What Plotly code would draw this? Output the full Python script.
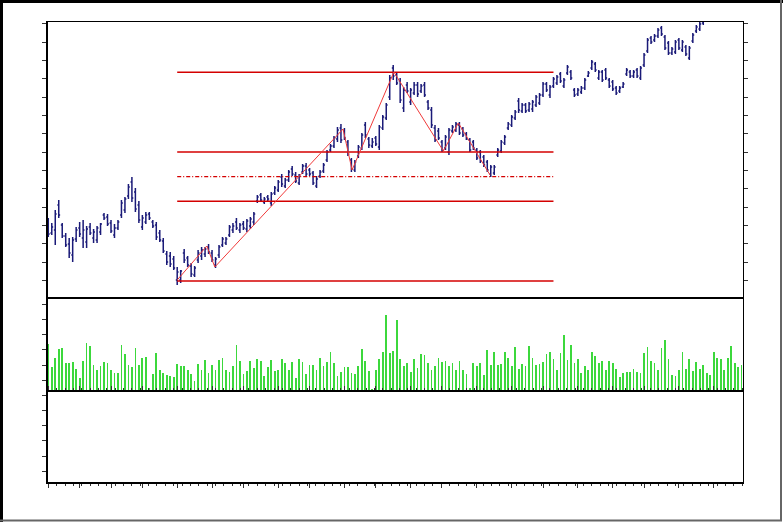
import plotly.graph_objects as go

# ---------------- data ----------------
bar_index = list(range(200))

high = [82, 77, 90, 100, 77, 67, 62, 63, 73, 78,
        80, 74, 77, 71, 74, 77, 87, 86, 80, 76,
        80, 100, 103, 116, 123, 112, 99, 85, 88, 88,
        80, 78, 70, 62, 49, 48, 44, 33, 30, 51,
        44, 37, 34, 50, 53, 53, 56, 50, 43, 55,
        63, 63, 75, 77, 82, 77, 79, 81, 83, 88,
        105, 107, 103, 105, 108, 114, 120, 126, 122, 130,
        134, 128, 126, 136, 137, 132, 129, 124, 130, 137,
        150, 156, 164, 173, 176, 172, 160, 142, 140, 155,
        167, 178, 163, 162, 164, 175, 185, 197, 225, 235,
        227, 222, 213, 218, 212, 218, 218, 216, 218, 200,
        193, 175, 172, 160, 165, 172, 175, 178, 178, 173,
        168, 162, 160, 152, 150, 145, 140, 135, 135, 152,
        160, 165, 178, 185, 190, 202, 197, 197, 198, 200,
        205, 207, 218, 218, 215, 223, 225, 228, 222, 235,
        230, 212, 212, 214, 222, 229, 240, 238, 230, 230,
        232, 222, 220, 214, 214, 218, 232, 230, 230, 232,
        234, 247, 262, 264, 266, 272, 274, 265, 259, 253,
        260, 262, 260, 255, 254, 267, 275, 278, 284, 290,
        292, 295, 298, 296, 300, 303, 301, 305, 308, 306]

low = [63, 65, 55, 82, 62, 53, 42, 38, 58, 63,
       52, 52, 65, 57, 57, 65, 80, 74, 67, 62,
       70, 82, 87, 101, 98, 88, 77, 70, 76, 80,
       72, 60, 58, 47, 35, 33, 30, 15, 17, 37,
       33, 23, 23, 37, 40, 43, 46, 38, 32, 42,
       53, 55, 63, 67, 70, 67, 70, 68, 71, 75,
       97, 98, 96, 99, 94, 105, 108, 113, 112, 118,
       124, 117, 115, 126, 123, 124, 115, 112, 122, 127,
       138, 148, 152, 158, 157, 160, 144, 128, 128, 142,
       150, 162, 152, 152, 154, 150, 170, 180, 200, 220,
       215, 197, 188, 207, 195, 205, 203, 207, 203, 190,
       172, 158, 160, 148, 150, 145, 167, 168, 165, 163,
       160, 148, 150, 140, 137, 133, 128, 123, 125, 143,
       147, 155, 170, 173, 180, 187, 187, 187, 188, 188,
       193, 195, 203, 208, 202, 212, 215, 217, 212, 225,
       220, 203, 204, 206, 210, 223, 230, 228, 220, 218,
       220, 212, 209, 205, 207, 212, 224, 222, 222, 222,
       220, 233, 247, 256, 258, 262, 264, 250, 245, 245,
       246, 250, 248, 244, 240, 257, 267, 269, 275, 280,
       282, 285, 287, 286, 289, 292, 290, 294, 297, 296]

open_ = [78, 67, 70, 95, 75, 64, 56, 45, 61, 72,
         62, 58, 73, 62, 60, 68, 85, 83, 77, 65,
         72, 85, 90, 104, 118, 108, 95, 73, 78, 86,
         78, 75, 67, 59, 46, 44, 41, 20, 20, 47,
         42, 34, 25, 40, 44, 46, 53, 47, 35, 45,
         55, 57, 65, 70, 78, 70, 76, 71, 74, 78,
         99, 105, 98, 103, 97, 107, 110, 123, 114, 120,
         131, 125, 117, 128, 134, 130, 127, 114, 124, 129,
         140, 150, 154, 161, 172, 169, 158, 140, 130, 144,
         152, 175, 161, 154, 162, 153, 172, 182, 203, 232,
         225, 219, 192, 215, 198, 207, 215, 209, 215, 198,
         190, 172, 169, 158, 152, 148, 169, 170, 175, 171,
         166, 160, 158, 150, 148, 143, 138, 126, 127, 145,
         149, 157, 172, 175, 182, 199, 189, 195, 190, 191,
         195, 197, 205, 216, 205, 214, 217, 226, 214, 227,
         228, 210, 206, 208, 212, 224, 232, 236, 222, 228,
         230, 220, 218, 212, 209, 213, 226, 228, 224, 230,
         222, 235, 249, 262, 260, 264, 272, 263, 257, 247,
         248, 260, 250, 253, 242, 259, 269, 271, 277, 282,
         284, 287, 289, 294, 290, 294, 299, 295, 299, 304]

close = [66, 73, 86, 85, 64, 55, 47, 60, 70, 66,
         70, 71, 67, 68, 72, 76, 82, 76, 69, 72,
         78, 97, 101, 113, 102, 91, 80, 82, 85, 82,
         74, 63, 60, 49, 38, 36, 32, 28, 29, 40,
         35, 26, 32, 47, 50, 51, 48, 40, 41, 53,
         61, 61, 73, 74, 72, 75, 72, 79, 81, 86,
         103, 100, 101, 101, 106, 112, 118, 116, 120, 128,
         126, 119, 124, 134, 126, 126, 117, 121, 128, 135,
         148, 154, 162, 170, 160, 162, 146, 131, 138, 153,
         165, 165, 155, 158, 156, 173, 183, 195, 222, 224,
         217, 200, 210, 209, 210, 215, 206, 214, 205, 192,
         175, 160, 162, 150, 163, 170, 173, 176, 167, 165,
         161, 150, 152, 142, 139, 135, 130, 133, 133, 150,
         158, 163, 176, 183, 188, 190, 195, 189, 196, 198,
         203, 205, 216, 210, 213, 221, 223, 219, 220, 233,
         222, 205, 210, 212, 220, 227, 238, 230, 228, 220,
         222, 214, 211, 207, 212, 216, 230, 224, 228, 224,
         232, 245, 260, 258, 264, 270, 266, 252, 247, 251,
         258, 252, 258, 246, 252, 265, 273, 276, 282, 288,
         290, 293, 296, 288, 298, 301, 292, 303, 306, 298]

volume = [47, 24, 33, 42, 43, 28, 28, 29, 22, 13,
          30, 48, 45, 26, 21, 25, 29, 28, 21, 18,
          18, 46, 37, 26, 24, 43, 26, 33, 34, 3,
          17, 38, 21, 18, 16, 15, 14, 27, 25, 25,
          21, 17, 10, 27, 21, 31, 18, 26, 21, 31,
          33, 21, 19, 25, 46, 30, 17, 20, 30, 23,
          32, 30, 15, 24, 31, 20, 21, 32, 28, 21,
          29, 13, 32, 29, 17, 26, 26, 21, 33, 25,
          29, 39, 28, 15, 19, 24, 24, 18, 17, 25,
          42, 30, 20, 2, 21, 32, 39, 76, 38, 40,
          71, 32, 25, 28, 19, 32, 23, 37, 36, 28,
          21, 25, 33, 29, 30, 25, 28, 21, 30, 21,
          17, 3, 28, 25, 28, 16, 41, 26, 39, 26,
          27, 39, 33, 25, 44, 22, 27, 25, 45, 33,
          26, 27, 29, 37, 39, 32, 21, 38, 56, 31,
          46, 28, 32, 18, 25, 21, 39, 35, 28, 30,
          21, 30, 28, 22, 14, 18, 19, 19, 22, 19,
          18, 38, 44, 30, 28, 21, 43, 51, 32, 16,
          15, 21, 39, 22, 32, 20, 29, 22, 26, 18,
          16, 39, 33, 32, 21, 33, 45, 28, 24, 26]

# Fibonacci retracement drawn from the swing low to the swing high
fib_start = 37
fib_end = 145
fib_low = 19
fib_high = 227.7
fib_ratios = [0.0, 0.382, 0.5, 0.618, 1.0]

# zig-zag swing line
zig_x = [37, 45.5, 47.8, 84.6, 87.2, 99.2, 113.4, 117.7, 126.8]
zig_y = [20, 54, 33, 171, 130, 228, 149, 177, 125]

x_major_ticks = [0, 9, 18, 27, 37, 47, 56, 66, 75, 85, 94, 104, 113,
                 123, 133, 142, 152, 162, 171, 181, 191]

# ---------------- styles ----------------
NAVY = "#1a1a78"
GREEN = "#3cd83c"
FIB_RED = "#d40000"
ZIG_RED = "#f03a3a"

fig = go.Figure()

fig.add_trace(go.Ohlc(
    x=bar_index, open=open_, high=high, low=low, close=close,
    increasing=dict(line=dict(color=NAVY, width=1.5)),
    decreasing=dict(line=dict(color=NAVY, width=1.5)),
    tickwidth=0.4, xaxis="x", yaxis="y", hoverinfo="skip", showlegend=False))

for r in fib_ratios:
    level = fib_low + r * (fib_high - fib_low)
    fig.add_trace(go.Scatter(
        x=[fib_start, fib_end], y=[level, level], mode="lines",
        line=dict(color=FIB_RED, width=1.5 if r != 0.5 else 1.2,
                  dash="4px,2px,1px,2px" if r == 0.5 else "solid"),
        xaxis="x", yaxis="y", hoverinfo="skip", showlegend=False))

fig.add_trace(go.Scatter(
    x=zig_x, y=zig_y, mode="lines", line=dict(color=ZIG_RED, width=1),
    xaxis="x", yaxis="y", hoverinfo="skip", showlegend=False))

fig.add_trace(go.Bar(
    x=bar_index, y=volume, width=0.5,
    marker=dict(color=GREEN, line=dict(width=0)),
    xaxis="x", yaxis="y2", hoverinfo="skip", showlegend=False))

fig.add_trace(go.Scatter(x=[], y=[], xaxis="x", yaxis="y3",
                         hoverinfo="skip", showlegend=False))

W, H = 783, 522
L, R, T, B = 47, 40, 22, 39
pw, ph = W - L - R, H - T - B


def px(xp):
    return (xp - L) / pw


def py(yp):
    return (H - B - yp) / ph


axis_common = dict(showgrid=False, zeroline=False, showline=True,
                   linecolor="black", linewidth=1, ticks="outside",
                   tickcolor="#333333", ticklen=4, tickwidth=1,
                   showticklabels=False)

fig.update_layout(
    width=W, height=H,
    margin=dict(l=L, r=R, t=T, b=B, pad=0),
    paper_bgcolor="white", plot_bgcolor="white",
    showlegend=False, bargap=0,
    xaxis=dict(domain=[0, 1], anchor="y3", range=[-0.37, 199.4],
               mirror="all", tickmode="array", tickvals=x_major_ticks,
               minor=dict(ticks="outside", dtick=2.4, tick0=0, ticklen=2,
                          tickcolor="#333333"),
               rangeslider=dict(visible=False), **axis_common),
    yaxis=dict(domain=[185 / 461, 1], anchor="x", range=[2, 278],
               mirror="ticks", tick0=1, dtick=18.35, **axis_common),
    yaxis2=dict(domain=[92 / 461, 185 / 461], anchor="x", range=[0, 93],
                mirror=True, tick0=10.7, dtick=15.2, **axis_common),
    yaxis3=dict(domain=[0, 92 / 461], anchor="x", range=[0, 92],
                mirror=True, tick0=11.5, dtick=15.3, **axis_common),
    shapes=[
        # heavier left and bottom frame edges
        dict(type="line", xref="paper", yref="paper", x0=0, x1=0, y0=0, y1=1,
             line=dict(color="black", width=2)),
        dict(type="line", xref="paper", yref="paper", x0=0, x1=1, y0=0, y1=0,
             line=dict(color="black", width=2)),
        # window border
        dict(type="line", xref="paper", yref="paper", x0=px(0), x1=px(783),
             y0=py(1.5), y1=py(1.5), line=dict(color="black", width=3)),
        dict(type="line", xref="paper", yref="paper", x0=px(1.5), x1=px(1.5),
             y0=py(0), y1=py(522), line=dict(color="black", width=3)),
        dict(type="line", xref="paper", yref="paper", x0=px(781), x1=px(781),
             y0=py(0), y1=py(521), line=dict(color="#666666", width=2)),
        dict(type="line", xref="paper", yref="paper", x0=px(0), x1=px(782),
             y0=py(520.5), y1=py(520.5), line=dict(color="#666666", width=2)),
    ],
)

fig.write_html(
    "out.html",
    config={"displayModeBar": False, "staticPlot": True},
    post_script="document.body.style.margin='0';document.body.style.overflow='hidden';",
)
